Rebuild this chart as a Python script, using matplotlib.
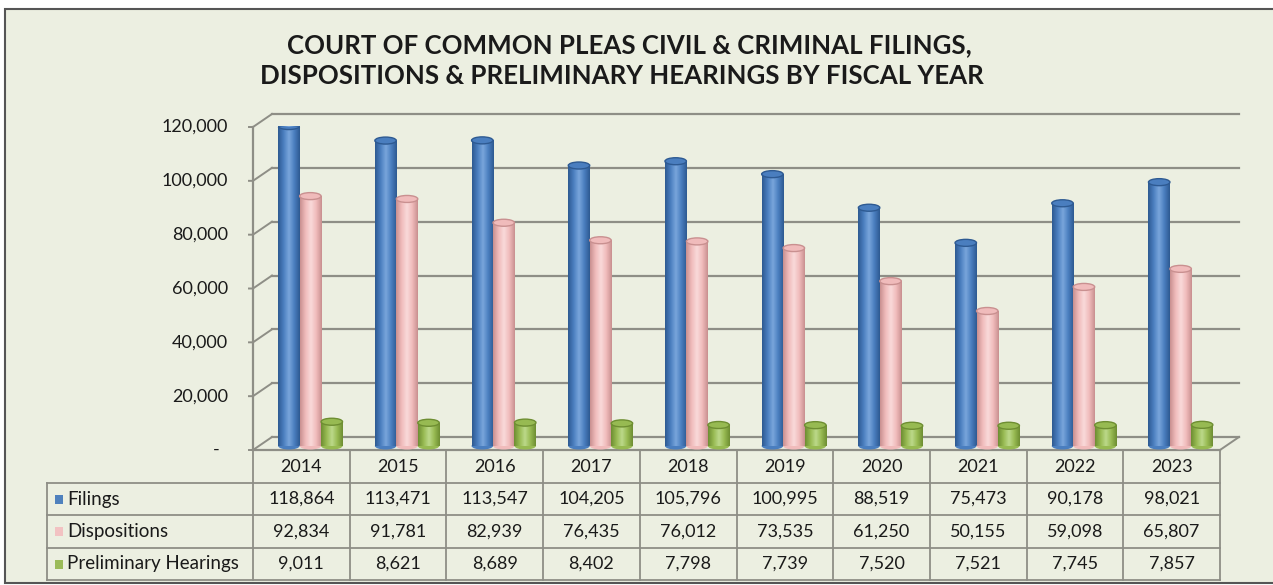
import matplotlib
matplotlib.use("Agg")
import matplotlib.pyplot as plt
import matplotlib.transforms as mtransforms
from matplotlib.patches import Ellipse, Rectangle
from matplotlib.lines import Line2D
from matplotlib.colors import LinearSegmentedColormap
import numpy as np

years = ["2014", "2015", "2016", "2017", "2018", "2019", "2020", "2021", "2022", "2023"]
filings = [118864, 113471, 113547, 104205, 105796, 100995, 88519, 75473, 90178, 98021]
dispositions = [92834, 91781, 82939, 76435, 76012, 73535, 61250, 50155, 59098, 65807]
prelim = [9011, 8621, 8689, 8402, 7798, 7739, 7520, 7521, 7745, 7857]
seriesNames = ["Filings", "Dispositions", "Preliminary Hearings"]
yticks = [0, 20000, 40000, 60000, 80000, 100000, 120000]

W, H = 1273, 585
bg = "#ECEFE1"
gridc = "#8E8E86"
txtc = "#1a1a1a"
# base, dark edge, highlight
palette = [("#4A7EBF", "#2E5A92", "#79A6DC"),
           ("#F0BBBB", "#C99090", "#F9DADA"),
           ("#97BA52", "#6E8E32", "#BCD98A")]
legendCols = ["#4F81BD", "#F2C2C2", "#9BBB59"]

plt.rcParams['font.family'] = ['Lato', 'DejaVu Sans']

fig = plt.figure(figsize=(W / 100, H / 100), dpi=100)
fig.patch.set_facecolor("white")

def fx(px):
  return px / W

def fy(py):
  return 1 - py / H

# outer chart frame
fig.add_artist(Rectangle((fx(5), fy(583)), fx(1290) - fx(5), fy(9) - fy(583),
                         transform=fig.transFigure, facecolor=bg, edgecolor="#555555", lw=1.5, zorder=0))

left, right, top, bottom = 253, 1220, 127, 450
ax = fig.add_axes([fx(left), fy(bottom), fx(right) - fx(left), fy(top) - fy(bottom)])
ax.set_xlim(-0.5, 9.5)
ax.set_ylim(0, 120000)
ax.set_facecolor("none")
for s in ax.spines.values():
  s.set_visible(False)
ax.set_xticks([])
ax.set_yticks([])

# 3d depth offsets (in pixels)
back = mtransforms.ScaledTranslation(19 / 100, 13 / 100, fig.dpi_scale_trans)
mid = mtransforms.ScaledTranslation(9 / 100, 4 / 100, fig.dpi_scale_trans)
backT = ax.transData + back
midT = ax.transData + mid

# back wall gridlines and diagonals
for v in yticks:
  ax.plot([-0.5, 9.5], [v, v], color=gridc, lw=1.6, transform=backT, clip_on=False, zorder=1)
  x0, y0 = ax.transData.transform((-0.5, v))
  ax.add_line(Line2D([x0 - 4, x0, x0 + 19], [y0, y0, y0 + 13], color=gridc, lw=1.4,
                     transform=None, clip_on=False, zorder=1))
# floor front edge and right diagonal
ax.plot([-0.5, 9.5], [0, 0], color=gridc, lw=1.6, clip_on=False, zorder=1)
xr, yr = ax.transData.transform((9.5, 0))
ax.add_line(Line2D([xr, xr + 19], [yr, yr + 13], color=gridc, lw=1.4, transform=None, clip_on=False, zorder=1))
# front value axis
ax.plot([-0.5, -0.5], [0, 120000], color=gridc, lw=1.6, clip_on=False, zorder=1)

ytrans = mtransforms.blended_transform_factory(fig.transFigure, ax.transData)
for v in yticks:
  lab = "-" if v == 0 else f"{v:,}"
  xo = 220 if v == 0 else 228
  ax.text(fx(xo), v, lab, transform=ytrans, ha="right", va="center", fontsize=13, color=txtc)

# cylinder bars
w = 0.222
xs = np.arange(len(years))
pxPerVal = (bottom - top) / 120000.0
capH = 7 / pxPerVal
for k, vals in enumerate([filings, dispositions, prelim]):
  base, dark, light = palette[k]
  cmap = LinearSegmentedColormap.from_list("c%d" % k, [dark, base, light, base, dark])
  bars = ax.bar(xs + (k - 1) * w, vals, width=w, color=base, transform=midT, zorder=3 + k, lw=0)
  for b, v in zip(bars, vals):
    xc = b.get_x() + w / 2
    ax.add_patch(Ellipse((xc, 0), w, capH, transform=midT, facecolor=base, lw=0, zorder=2.9 + k))
    im = ax.imshow(np.linspace(0, 1, 64)[np.newaxis, :], cmap=cmap, aspect="auto",
                   extent=(b.get_x(), b.get_x() + w, 0, v), transform=midT, zorder=3 + k)
    im.set_clip_path(b)
    ax.add_patch(Ellipse((xc, v), w, capH, transform=midT, facecolor=base, edgecolor=dark, lw=1.0, zorder=3.5 + k))
ax.set_xlim(-0.5, 9.5)
ax.set_ylim(0, 120000)

# data table
bt = mtransforms.blended_transform_factory(ax.transData, fig.transFigure)
rowsY = [450, 483, 515, 548, 580]
for i in range(len(years) + 1):
  fig.add_artist(Line2D([i - 0.5, i - 0.5], [fy(450), fy(580)], color=gridc, lw=1.3, transform=bt))
for ry in rowsY[1:]:
  fig.add_artist(Line2D([fx(47), fx(right)], [fy(ry), fy(ry)], color=gridc, lw=1.3, transform=fig.transFigure))
fig.add_artist(Line2D([fx(47), fx(47)], [fy(483), fy(580)], color=gridc, lw=1.3, transform=fig.transFigure))

for i, yr in enumerate(years):
  fig.text(i, fy(467), yr, transform=bt, ha="center", va="center", fontsize=13, color=txtc)
allVals = [filings, dispositions, prelim]
for r, vals in enumerate(allVals):
  cy = (rowsY[r + 1] + rowsY[r + 2]) / 2
  for i, v in enumerate(vals):
    fig.text(i, fy(cy), f"{v:,}", transform=bt, ha="center", va="center", fontsize=13, color=txtc)
  fig.add_artist(Rectangle((fx(55), fy(cy + 4.5)), fx(8), 9 / H, transform=fig.transFigure,
                           facecolor=legendCols[r], lw=0))
  fig.text(fx(67), fy(cy), seriesNames[r], ha="left", va="center", fontsize=13.5, color=txtc)

fig.text(fx(629), fy(45), "COURT OF COMMON PLEAS CIVIL & CRIMINAL FILINGS,", ha="center", va="center",
         fontsize=18.6, fontweight="bold", color=txtc)
fig.text(fx(622), fy(76), "DISPOSITIONS & PRELIMINARY HEARINGS BY FISCAL YEAR", ha="center", va="center",
         fontsize=18.6, fontweight="bold", color=txtc)

fig.savefig("out.png", dpi=100, facecolor=fig.get_facecolor())
